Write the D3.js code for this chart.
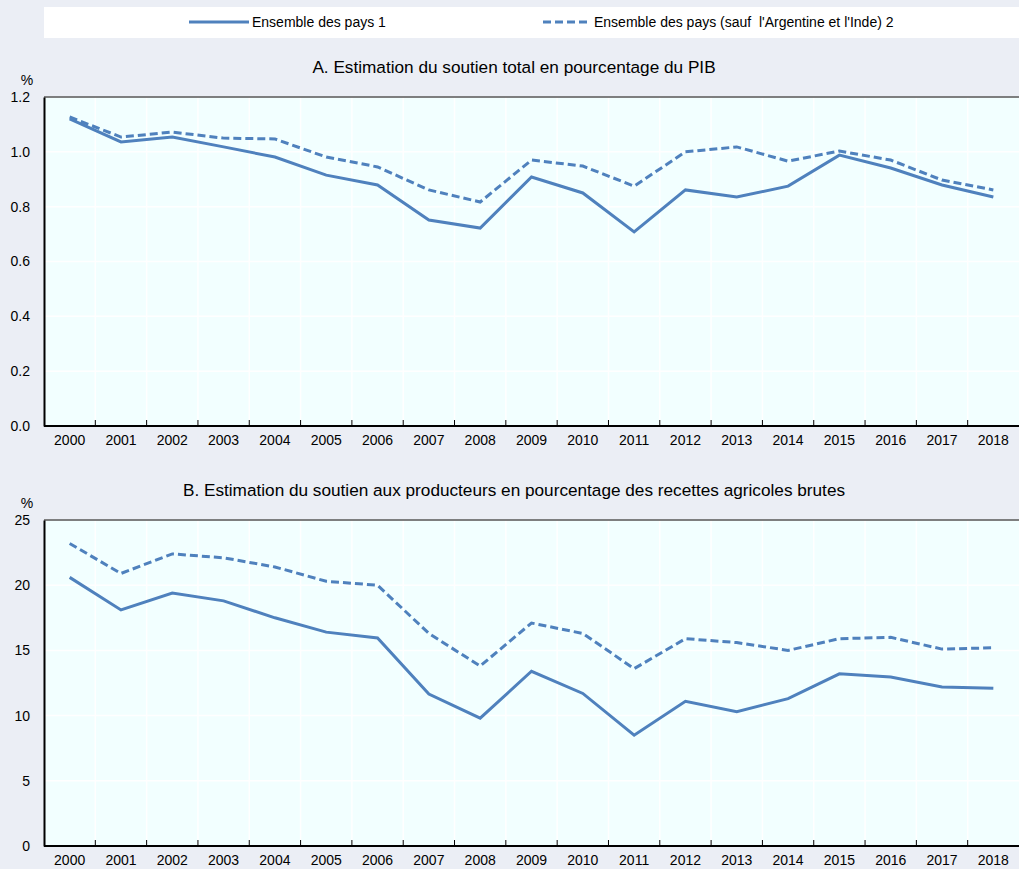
<!DOCTYPE html>
<html>
<head>
<meta charset="utf-8">
<script src="https://cdn.jsdelivr.net/npm/d3@7"></script>
<style>
  body { margin: 0; background: #ebeef5; }
  svg { display: block; }
  .narrow { font-family: "Liberation Sans Narrow", "Arial Narrow", "Liberation Sans", sans-serif; }
</style>
</head>
<body>
<svg id="chart" width="1019" height="869"></svg>
<script>
var years = ["2000","2001","2002","2003","2004","2005","2006","2007","2008","2009",
             "2010","2011","2012","2013","2014","2015","2016","2017","2018"];

// panel A: total support estimate, % of GDP
var tseAll   = [1.12,1.036,1.054,1.018,0.981,0.915,0.879,0.751,0.722,0.908,0.85,0.708,0.861,0.835,0.875,0.988,0.941,0.879,0.835];
var tseExcl  = [1.127,1.054,1.072,1.05,1.047,0.981,0.945,0.861,0.817,0.97,0.948,0.875,1.0,1.018,0.966,1.003,0.97,0.897,0.861];

// panel B: producer support estimate, % of gross farm receipts
var pseAll   = [20.6,18.1,19.4,18.8,17.5,16.4,15.95,11.65,9.8,13.4,11.7,8.5,11.1,10.3,11.3,13.2,12.96,12.2,12.1];
var pseExcl  = [23.2,20.9,22.4,22.1,21.4,20.3,20.0,16.3,13.8,17.1,16.3,13.6,15.9,15.6,15.0,15.9,16.0,15.1,15.2];

var ticksA = [0, 0.2, 0.4, 0.6, 0.8, 1.0, 1.2];
var ticksB = [0, 5, 10, 15, 20, 25];

var seriesNames = ["Ensemble des pays 1", "Ensemble des pays (sauf  l'Argentine et l'Inde) 2"];
var titles = ["A. Estimation du soutien total en pourcentage du PIB",
              "B. Estimation du soutien aux producteurs en pourcentage des recettes agricoles brutes"];

var lineColor = "#4f81bd";
var svg = d3.select("#chart");

// legend
var leg = svg.append("g");
leg.append("rect").attr("x", 44).attr("y", 7).attr("width", 975).attr("height", 31).attr("fill", "#fff");
var legX1 = [189, 543], legX2 = [249, 591];
seriesNames.forEach(function(name, i) {
    leg.append("line")
        .attr("x1", legX1[i]).attr("x2", legX2[i])
        .attr("y1", 22).attr("y2", 22)
        .attr("stroke", lineColor).attr("stroke-width", 3)
        .attr("stroke-dasharray", i == 1 ? "8,4" : null);
    leg.append("text").attr("class", "narrow")
        .attr("x", legX2[i] + 3).attr("y", 27)
        .attr("font-size", 14).attr("fill", "#000")
        .style("white-space", "pre")
        .text(name);
});

function panel(top, bottom, domain, ticks, fmt, a, b, title) {
    var left = 44, right = 1019;
    var x = d3.scaleBand().domain(years).range([left, right]);
    var y = d3.scaleLinear().domain(domain).range([bottom, top]);
    var g = svg.append("g");

    g.append("text")
        .attr("x", 514).attr("y", top - 24)
        .attr("text-anchor", "middle")
        .attr("font-family", "'Liberation Sans', Arial, sans-serif")
        .attr("font-size", 17.2)
        .text(title);
    g.append("text").attr("class", "narrow")
        .attr("x", 27).attr("y", top - 12)
        .attr("text-anchor", "middle").attr("font-size", 14)
        .text("%");

    g.append("rect")
        .attr("x", left).attr("y", top)
        .attr("width", right - left).attr("height", bottom - top)
        .attr("fill", "#f2ffff");

    // gridlines
    g.selectAll(".hg").data(ticks.slice(1)).enter().append("line")
        .attr("x1", left).attr("x2", right)
        .attr("y1", function(d) { return y(d); }).attr("y2", function(d) { return y(d); })
        .attr("stroke", "#fff").attr("stroke-width", 1.5);
    g.selectAll(".vg").data(years.slice(1)).enter().append("line")
        .attr("x1", function(d) { return x(d); }).attr("x2", function(d) { return x(d); })
        .attr("y1", top).attr("y2", bottom)
        .attr("stroke", "#fff").attr("stroke-width", 1.5);

    // top border
    g.append("line").attr("x1", left).attr("x2", right).attr("y1", top).attr("y2", top)
        .attr("stroke", "#000").attr("stroke-width", 1);

    // y axis
    var ya = g.append("g").attr("transform", "translate(" + left + ",0)")
        .call(d3.axisLeft(y).tickValues(ticks).tickFormat(fmt).tickSize(0).tickPadding(14));
    ya.select(".domain").attr("stroke", "#000").attr("stroke-width", 2);
    ya.selectAll("text").attr("class", "narrow").attr("font-size", 14).attr("fill", "#000");

    // x axis, ticks at band boundaries
    var xa = g.append("g").attr("transform", "translate(0," + bottom + ")");
    xa.append("line").attr("x1", left).attr("x2", right).attr("stroke", "#000").attr("stroke-width", 2);
    xa.selectAll(".tk").data(years.slice(1)).enter().append("line")
        .attr("x1", function(d) { return x(d); }).attr("x2", function(d) { return x(d); })
        .attr("y1", 0).attr("y2", -6).attr("stroke", "#000").attr("stroke-width", 1);
    xa.selectAll(".lb").data(years).enter().append("text").attr("class", "narrow")
        .attr("x", function(d) { return x(d) + x.bandwidth() / 2; })
        .attr("y", 19).attr("text-anchor", "middle").attr("font-size", 14)
        .text(function(d) { return d; });

    var line = d3.line()
        .x(function(d, i) { return x(years[i]) + x.bandwidth() / 2; })
        .y(function(d) { return y(d); });

    g.append("path").datum(a).attr("d", line)
        .attr("fill", "none").attr("stroke", lineColor).attr("stroke-width", 3);
    g.append("path").datum(b).attr("d", line)
        .attr("fill", "none").attr("stroke", lineColor).attr("stroke-width", 3)
        .attr("stroke-dasharray", "8,4");
}

panel(97, 426, [0, 1.2], ticksA, d3.format(".1f"), tseAll, tseExcl, titles[0]);
panel(520, 846, [0, 25], ticksB, d3.format("d"), pseAll, pseExcl, titles[1]);
</script>
</body>
</html>
